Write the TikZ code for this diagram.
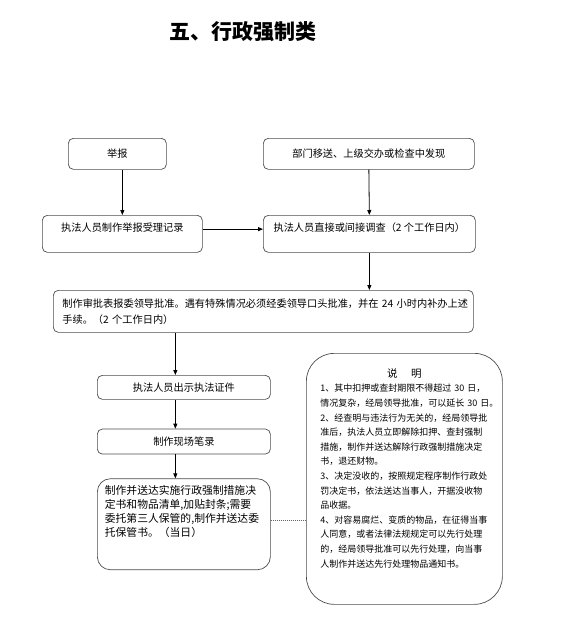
\documentclass[tikz,border=0pt]{standalone}
\usepackage{fontspec}
\setmainfont{Noto Sans CJK SC}
\usetikzlibrary{shapes,arrows.meta,positioning}
\tikzset{
  bx/.style = {draw=black!70, line width=0.7pt, rounded corners=5pt, inner sep=0pt, font=\fontsize{10.2}{16}\selectfont},
  tb/.style = {bx, anchor=north west, text height=12pt, text depth=16pt, inner ysep=4.5pt},
  rb/.style = {bx, minimum width=173pt, minimum height=24pt},
  arrow/.style = {line width=0.8pt, ->, >={Triangle[length=5pt,width=4pt]}},
  link/.style = {line width=0.6pt, black!60, dash pattern=on 0.8pt off 1.2pt}
}
\begin{document}
\begin{tikzpicture}[x=1pt,y=-1pt]
            \useasboundingbox (0,0) rectangle (565,642);
            \node[font=\fontsize{21}{21}\selectfont\bfseries] (tt) at (243,32) {五、行政强制类};
            \node[bx, anchor=north west, minimum width=98pt, minimum height=31pt] (jb) at (68,138) {举报};
            \node[bx, anchor=north west, minimum width=211pt, minimum height=31pt] (bm) at (263,138) {部门移送、上级交办或检查中发现};
            \node[tb, minimum width=160pt] (sl) at (42,215) {执法人员制作举报受理记录};
            \node[tb, minimum width=212pt] (dc) at (263,215) {执法人员直接或间接调查（2~个工作日内）};
            \node[bx, anchor=north west, text width=402pt, inner xsep=9pt, inner ysep=5pt, text height=12pt, text depth=20pt, align=left] (sp) at (53,290)
              {制作审批表报委领导批准。遇有特殊情况必须经委领导口头批准，并在~24~小时内补办上述\\手续。（2~个工作日内）};
            \node[rb, anchor=north west] (zj) at (97,375) {执法人员出示执法证件};
            \node[rb, minimum height=25pt, below=29pt of zj] (bl) {制作现场笔录};
            \node[bx, rounded corners=13pt, text width=158pt, inner xsep=7.5pt, inner ysep=4pt, text height=12pt, text depth=71pt, align=left, font=\fontsize{10.8}{14}\selectfont, below=24pt of bl] (zz)
              {制作并送达实施行政强制措施决\\定书和物品清单,加贴封条;需要\\委托第三人保管的,制作并送达委\\托保管书。（当日）};
            \node[bx, rounded corners=28pt, anchor=north west, text width=168pt, inner xsep=14pt, inner ysep=8pt, text height=16pt, text depth=219pt, align=left, font=\fontsize{9}{14.6}\selectfont] (sm) at (306,353)
              {\makebox[168pt]{\fontsize{10.5}{14.6}\selectfont 说\hspace{1.3em}明}\\
               1、其中扣押或查封期限不得超过~30~日，\\
               情况复杂，经局领导批准，可以延长~30~日。\\
               2、经查明与违法行为无关的，经局领导批\\
               准后，执法人员立即解除扣押、查封强制\\
               措施，制作并送达解除行政强制措施决定\\
               书，退还财物。\\
               3、决定没收的，按照规定程序制作行政处\\
               罚决定书，依法送达当事人，开据没收物\\
               品收据。\\
               4、对容易腐烂、变质的物品，在征得当事\\
               人同意，或者法律法规规定可以先行处理\\
               的，经局领导批准可以先行处理，向当事\\
               人制作并送达先行处理物品通知书。};
            \draw[arrow] (sl.north |- jb.south) -- (sl.north);
            \draw[arrow] (bm.south) -- (dc.north);
            \draw[arrow] (sl.mid east) -- (dc.mid west);
            \draw[arrow] (dc.south) -- (dc.south |- sp.north);
            \draw[arrow] ([xshift=-8.5pt]zj.north |- sp.south) -- ([xshift=-8.5pt]zj.north);
            \draw[arrow] ([xshift=-8.5pt]zj.south) -- ([xshift=-8.5pt]bl.north);
            \draw[arrow] ([xshift=-8.5pt]bl.south) -- ([xshift=-8.5pt]zz.north);
            \draw[link] ([yshift=3.5pt]zz.east) -- ([yshift=3.5pt]zz.east -| sm.west);
        \end{tikzpicture}
\end{document}
